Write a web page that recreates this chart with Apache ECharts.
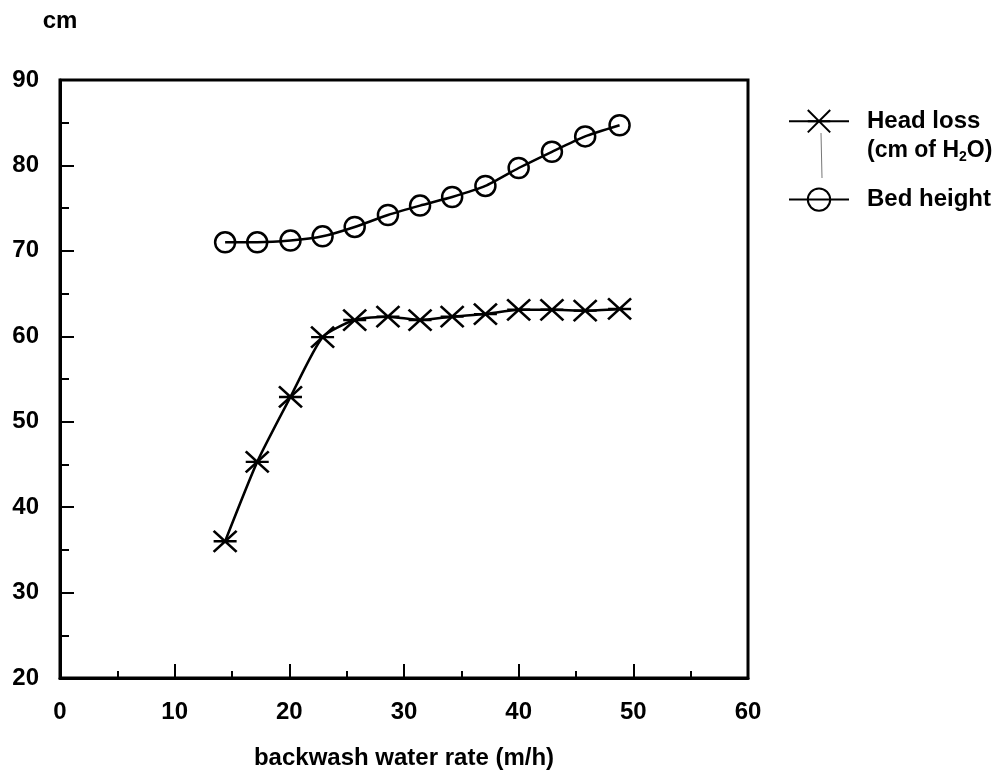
<!DOCTYPE html>
<html>
<head>
<meta charset="utf-8">
<script src="https://cdn.jsdelivr.net/npm/echarts@6/dist/echarts.min.js"></script>
<style>
  html, body { margin: 0; padding: 0; background: #fff; }
  #chart { width: 1000px; height: 782px; }
</style>
</head>
<body>
<div id="chart"></div>
<script>
(function () {
var myChart = echarts.init(document.getElementById('chart'));

// backwash water rate (m/h)
var rates = [14.4, 17.2, 20.1, 22.9, 25.7, 28.6, 31.4, 34.2, 37.1, 40.0, 42.9, 45.8, 48.8];
// head loss (cm of H2O)
var headLoss = [36.0, 45.3, 52.9, 59.9, 61.9, 62.3, 61.9, 62.3, 62.6, 63.1, 63.1, 63.0, 63.2];
// bed height (cm)
var bedHeight = [71.0, 71.0, 71.2, 71.7, 72.8, 74.2, 75.3, 76.3, 77.6, 79.7, 81.6, 83.4, 84.7];

var seriesNames = ['Head loss', 'Bed height'];

var font = 'Liberation Sans, Arial, Helvetica, sans-serif';
var crossPath = 'path://M0,0L23,21M23,0L0,21M0,10.5L23,10.5';

function pairs(ys) {
    var out = [];
    for (var i = 0; i < rates.length; i++) {
        out.push([rates[i], ys[i]]);
    }
    return out;
}

var labelStyle = { fontSize: 24, fontWeight: 'bold', color: '#000', fontFamily: font };

var option = {
    backgroundColor: '#fff',
    animation: false,
    textStyle: { fontFamily: font, color: '#000' },
    grid: {
        left: 60,
        right: 252,
        top: 80,
        bottom: 104,
        show: true,
        borderColor: '#000',
        borderWidth: 3,
        backgroundColor: 'transparent'
    },
    legend: {
        data: seriesNames,
        orient: 'vertical',
        left: 783,
        top: 104,
        itemWidth: 60,
        itemHeight: 28,
        itemGap: 54,
        textStyle: {
            fontSize: 24,
            fontWeight: 'bold',
            color: '#000',
            fontFamily: font,
            padding: [0, 0, 0, 13]
        }
    },
    graphic: [
        {
            type: 'line',
            shape: { x1: 821, y1: 133, x2: 822, y2: 178 },
            style: { stroke: '#777', lineWidth: 1 }
        },
        {
            type: 'text',
            x: 867,
            y: 151,
            style: {
                text: '(cm of H{sub|2}O)',
                fontSize: 23,
                fontWeight: 'bold',
                fontFamily: font,
                fill: '#000',
                verticalAlign: 'middle',
                rich: {
                    sub: { fontSize: 14, fontWeight: 'bold', padding: [12, 0, 0, 0], fontFamily: font }
                }
            }
        }
    ],
    xAxis: {
        type: 'value',
        min: 0,
        max: 60,
        interval: 10,
        name: 'backwash water rate (m/h)',
        nameLocation: 'middle',
        nameGap: 68,
        nameTextStyle: labelStyle,
        axisLine: { lineStyle: { color: '#000', width: 3 } },
        axisTick: { inside: true, length: 14, lineStyle: { color: '#000', width: 2 } },
        minorTick: { show: true, splitNumber: 2, length: 7, lineStyle: { color: '#000', width: 2 } },
        axisLabel: { fontSize: 24, fontWeight: 'bold', color: '#000', margin: 22 },
        splitLine: { show: false }
    },
    yAxis: {
        type: 'value',
        min: 20,
        max: 90,
        interval: 10,
        name: 'cm',
        nameLocation: 'end',
        nameGap: 59,
        nameTextStyle: { fontSize: 24, fontWeight: 'bold', color: '#000', align: 'center', verticalAlign: 'middle' },
        axisLine: { lineStyle: { color: '#000', width: 3 } },
        axisTick: { inside: true, length: 14, lineStyle: { color: '#000', width: 2 } },
        minorTick: { show: true, splitNumber: 2, length: 9, lineStyle: { color: '#000', width: 2 } },
        axisLabel: { fontSize: 24, fontWeight: 'bold', color: '#000', margin: 21 },
        splitLine: { show: false }
    },
    series: [
        {
            name: seriesNames[0],
            type: 'line',
            smooth: 0.2,
            data: pairs(headLoss),
            symbol: crossPath,
            symbolSize: [23, 21],
            lineStyle: { color: '#000', width: 2.5 },
            itemStyle: { color: 'rgba(0,0,0,0)', borderColor: '#000', borderWidth: 2.5 }
        },
        {
            name: seriesNames[1],
            type: 'line',
            smooth: 0.2,
            data: pairs(bedHeight),
            symbol: 'circle',
            symbolSize: 20,
            lineStyle: { color: '#000', width: 2.5 },
            itemStyle: { color: 'rgba(0,0,0,0)', borderColor: '#000', borderWidth: 2.5 }
        }
    ]
};

myChart.setOption(option);
window.addEventListener('resize', function () {
    myChart.resize();
});
})();
</script>
</body>
</html>
